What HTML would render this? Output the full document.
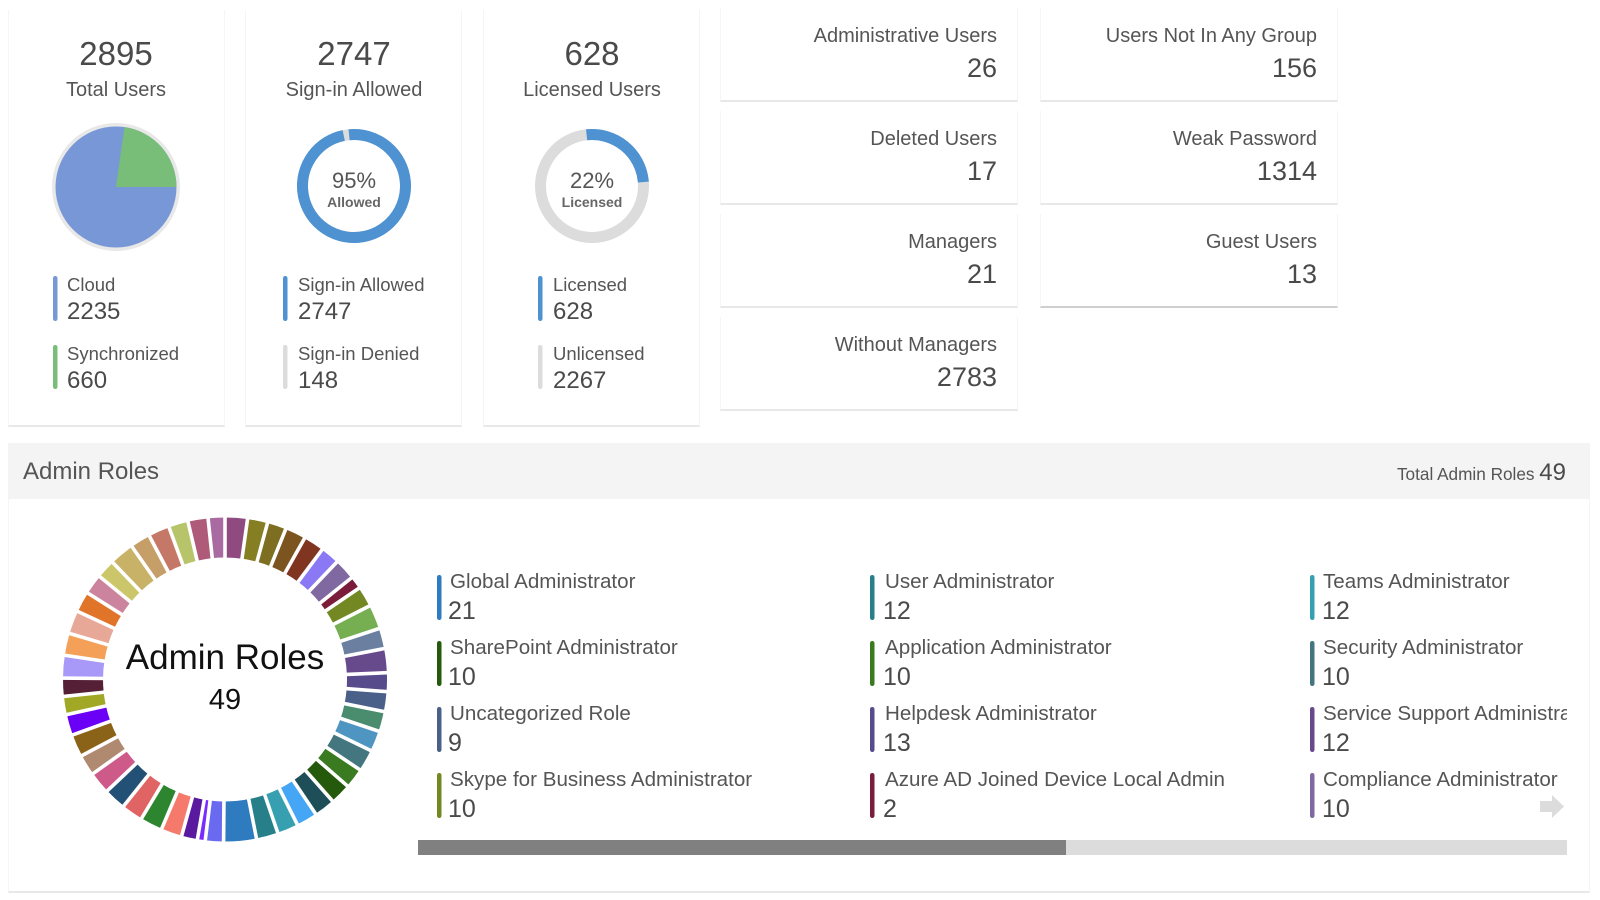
<!DOCTYPE html>
<html>
<head>
<meta charset="utf-8">
<style>
  html,body{margin:0;padding:0;}
  body{width:1600px;height:900px;background:#fff;position:relative;overflow:hidden;font-family:"Liberation Sans",sans-serif;color:#555;}
  .t{position:absolute;white-space:nowrap;line-height:1;}
  .card{position:absolute;background:#fff;border-left:1px solid #f5f5f5;border-right:1px solid #f5f5f5;border-bottom:2px solid #e8e8e8;box-sizing:border-box;}
  .c{text-align:center;}
  .big{font-size:33px;color:#4a4a4a;}
  .sub{font-size:20px;color:#555;}
  .ll{font-size:18.5px;color:#555;}
  .lv{font-size:24px;color:#4a4a4a;}
  .pct{font-size:22px;color:#555;}
  .pl{font-size:14px;font-weight:bold;color:#666;}
  .sl{font-size:20px;color:#555;text-align:right;}
  .sv{font-size:27px;color:#4a4a4a;text-align:right;}
  .rl{font-size:20.6px;color:#555;}
  .rv{font-size:25px;color:#4a4a4a;}
</style>
</head>
<body>

<!-- cards backgrounds -->
<div class="card" style="left:8px;top:10px;width:217px;height:417px;"></div>
<div class="card" style="left:245px;top:10px;width:217px;height:417px;"></div>
<div class="card" style="left:483px;top:10px;width:217px;height:417px;"></div>

<!-- right stat cards -->
<div class="card" style="left:720px;top:8px;width:298px;height:94px;"></div>
<div class="card" style="left:720px;top:111px;width:298px;height:94px;"></div>
<div class="card" style="left:720px;top:214px;width:298px;height:94px;"></div>
<div class="card" style="left:720px;top:317px;width:298px;height:94px;"></div>
<div class="card" style="left:1040px;top:8px;width:298px;height:94px;"></div>
<div class="card" style="left:1040px;top:111px;width:298px;height:94px;"></div>
<div class="card" style="left:1040px;top:214px;width:298px;height:94px;border-bottom:2px solid #cfcfcf;"></div>

<!-- admin roles section -->
<div style="position:absolute;left:8px;top:443px;width:1582px;height:450px;border-left:1px solid #f5f5f5;border-right:1px solid #f5f5f5;border-bottom:2px solid #e8e8e8;box-sizing:border-box;background:#fff;"></div>
<div style="position:absolute;left:8px;top:443px;width:1582px;height:56px;background:#f4f4f4;"></div>

<svg width="1600" height="900" style="position:absolute;left:0;top:0;" xmlns="http://www.w3.org/2000/svg">
  <!-- pie -->
  <circle cx="116" cy="187" r="64" fill="#e8e8e8"/>
  <circle cx="116" cy="187" r="60.5" fill="#7797d6"/>
  <path d="M116 187 L124.42 127.09 A60.5 60.5 0 0 1 176.5 187 Z" fill="#78bd78"/>

  <!-- donut 2 -->
  <circle cx="354" cy="186" r="51.5" fill="none" stroke="#dcdcdc" stroke-width="11"/>
  <circle cx="354" cy="186" r="51.5" fill="none" stroke="#4e92d2" stroke-width="11" stroke-dasharray="317.7 400" transform="rotate(-95.5 354 186)"/>

  <!-- donut 3 -->
  <circle cx="592" cy="186" r="51.5" fill="none" stroke="#dcdcdc" stroke-width="11"/>
  <circle cx="592" cy="186" r="51.5" fill="none" stroke="#4e92d2" stroke-width="11" stroke-dasharray="82.3 400" transform="rotate(-96 592 186)"/>

  <!-- top legend bars -->
  <rect x="53" y="276" width="4.5" height="45" rx="2.2" fill="#7797d6"/>
  <rect x="53" y="345" width="4.5" height="44" rx="2.2" fill="#78bd78"/>
  <rect x="283" y="276" width="4.5" height="45" rx="2.2" fill="#4e92d2"/>
  <rect x="283" y="345" width="4.5" height="44" rx="2.2" fill="#dcdcdc"/>
  <rect x="538" y="276" width="4.5" height="45" rx="2.2" fill="#4e92d2"/>
  <rect x="538" y="345" width="4.5" height="44" rx="2.2" fill="#dcdcdc"/>

  <!-- admin roles ring -->
  <g transform="translate(225 679.5)" fill="none" stroke-width="40">
    <circle r="142" stroke="#8f4a7f" stroke-dasharray="20.4 900" transform="rotate(-90)"/>
    <circle r="142" stroke="#857e22" stroke-dasharray="18.4 900" transform="rotate(-82)"/>
    <circle r="142" stroke="#7d6e22" stroke-dasharray="17.5 900" transform="rotate(-74.8)"/>
    <circle r="142" stroke="#7c5420" stroke-dasharray="18.9 900" transform="rotate(-68)"/>
    <circle r="142" stroke="#803520" stroke-dasharray="18.9 900" transform="rotate(-60.6)"/>
    <circle r="142" stroke="#8a78f5" stroke-dasharray="17.5 900" transform="rotate(-53.2)"/>
    <circle r="142" stroke="#8068a0" stroke-dasharray="19.4 900" transform="rotate(-46.4)"/>
    <circle r="142" stroke="#7a1c3a" stroke-dasharray="11.8 900" transform="rotate(-38.8)"/>
    <circle r="142" stroke="#738722" stroke-dasharray="18.7 900" transform="rotate(-34.3)"/>
    <circle r="142" stroke="#76ae52" stroke-dasharray="22.2 900" transform="rotate(-27)"/>
    <circle r="142" stroke="#6b7fa0" stroke-dasharray="18.7 900" transform="rotate(-18.3)"/>
    <circle r="142" stroke="#674a8c" stroke-dasharray="21.9 900" transform="rotate(-11)"/>
    <circle r="142" stroke="#574b8c" stroke-dasharray="17.2 900" transform="rotate(-2.4)"/>
    <circle r="142" stroke="#4a6088" stroke-dasharray="18.2 900" transform="rotate(4.3)"/>
    <circle r="142" stroke="#4a8c6e" stroke-dasharray="18.4 900" transform="rotate(11.4)"/>
    <circle r="142" stroke="#4f95c2" stroke-dasharray="18.9 900" transform="rotate(18.6)"/>
    <circle r="142" stroke="#447680" stroke-dasharray="19.9 900" transform="rotate(26)"/>
    <circle r="142" stroke="#3a7a20" stroke-dasharray="18.4 900" transform="rotate(33.8)"/>
    <circle r="142" stroke="#255a0d" stroke-dasharray="19.2 900" transform="rotate(41)"/>
    <circle r="142" stroke="#1e4e58" stroke-dasharray="19.2 900" transform="rotate(48.5)"/>
    <circle r="142" stroke="#45a6f5" stroke-dasharray="19.2 900" transform="rotate(56)"/>
    <circle r="142" stroke="#36a0b0" stroke-dasharray="19.2 900" transform="rotate(63.5)"/>
    <circle r="142" stroke="#277f8a" stroke-dasharray="19.9 900" transform="rotate(71)"/>
    <circle r="142" stroke="#2e7bbf" stroke-dasharray="29.6 900" transform="rotate(78.8)"/>
    <circle r="142" stroke="#6a6af0" stroke-dasharray="16.7 900" transform="rotate(90.5)"/>
    <circle r="142" stroke="#7a2cff" stroke-dasharray="7.5 900" transform="rotate(97)"/>
    <circle r="142" stroke="#5a1aa0" stroke-dasharray="14.7 900" transform="rotate(99.8)"/>
    <circle r="142" stroke="#f57a6c" stroke-dasharray="19.2 900" transform="rotate(105.5)"/>
    <circle r="142" stroke="#2e8530" stroke-dasharray="20.4 900" transform="rotate(113)"/>
    <circle r="142" stroke="#e06464" stroke-dasharray="19.7 900" transform="rotate(121)"/>
    <circle r="142" stroke="#235075" stroke-dasharray="20.2 900" transform="rotate(128.7)"/>
    <circle r="142" stroke="#cd5a88" stroke-dasharray="20.2 900" transform="rotate(136.6)"/>
    <circle r="142" stroke="#af8a70" stroke-dasharray="19.2 900" transform="rotate(144.5)"/>
    <circle r="142" stroke="#8a6218" stroke-dasharray="20.4 900" transform="rotate(152)"/>
    <circle r="142" stroke="#6a00f5" stroke-dasharray="19.2 900" transform="rotate(160)"/>
    <circle r="142" stroke="#a0a826" stroke-dasharray="16.7 900" transform="rotate(167.5)"/>
    <circle r="142" stroke="#552035" stroke-dasharray="16.7 900" transform="rotate(174)"/>
    <circle r="142" stroke="#a898f8" stroke-dasharray="20.7 900" transform="rotate(180.5)"/>
    <circle r="142" stroke="#f5a058" stroke-dasharray="20.2 900" transform="rotate(188.6)"/>
    <circle r="142" stroke="#e8a898" stroke-dasharray="21.2 900" transform="rotate(196.5)"/>
    <circle r="142" stroke="#e07428" stroke-dasharray="18.9 900" transform="rotate(204.8)"/>
    <circle r="142" stroke="#cc839e" stroke-dasharray="18.4 900" transform="rotate(212.2)"/>
    <circle r="142" stroke="#ccc66a" stroke-dasharray="17.5 900" transform="rotate(219.4)"/>
    <circle r="142" stroke="#c8b268" stroke-dasharray="22.4 900" transform="rotate(226.2)"/>
    <circle r="142" stroke="#c69e68" stroke-dasharray="18.4 900" transform="rotate(235)"/>
    <circle r="142" stroke="#c67868" stroke-dasharray="19.4 900" transform="rotate(242.2)"/>
    <circle r="142" stroke="#b8c46a" stroke-dasharray="18 900" transform="rotate(249.8)"/>
    <circle r="142" stroke="#ae5a78" stroke-dasharray="18.4 900" transform="rotate(256.8)"/>
    <circle r="142" stroke="#a86aa0" stroke-dasharray="15.5 900" transform="rotate(264)"/>
  </g>
  <g transform="translate(225 679.5)" stroke="#fff" stroke-width="3.6">
    <line y1="-116" y2="-168" transform="rotate(0)"/>
    <line y1="-116" y2="-168" transform="rotate(8)"/>
    <line y1="-116" y2="-168" transform="rotate(15.2)"/>
    <line y1="-116" y2="-168" transform="rotate(22)"/>
    <line y1="-116" y2="-168" transform="rotate(29.4)"/>
    <line y1="-116" y2="-168" transform="rotate(36.8)"/>
    <line y1="-116" y2="-168" transform="rotate(43.6)"/>
    <line y1="-116" y2="-168" transform="rotate(51.2)"/>
    <line y1="-116" y2="-168" transform="rotate(55.7)"/>
    <line y1="-116" y2="-168" transform="rotate(63)"/>
    <line y1="-116" y2="-168" transform="rotate(71.7)"/>
    <line y1="-116" y2="-168" transform="rotate(79)"/>
    <line y1="-116" y2="-168" transform="rotate(87.6)"/>
    <line y1="-116" y2="-168" transform="rotate(94.3)"/>
    <line y1="-116" y2="-168" transform="rotate(101.4)"/>
    <line y1="-116" y2="-168" transform="rotate(108.6)"/>
    <line y1="-116" y2="-168" transform="rotate(116)"/>
    <line y1="-116" y2="-168" transform="rotate(123.8)"/>
    <line y1="-116" y2="-168" transform="rotate(131)"/>
    <line y1="-116" y2="-168" transform="rotate(138.5)"/>
    <line y1="-116" y2="-168" transform="rotate(146)"/>
    <line y1="-116" y2="-168" transform="rotate(153.5)"/>
    <line y1="-116" y2="-168" transform="rotate(161)"/>
    <line y1="-116" y2="-168" transform="rotate(168.8)"/>
    <line y1="-116" y2="-168" transform="rotate(180.5)"/>
    <line y1="-116" y2="-168" transform="rotate(187)"/>
    <line y1="-116" y2="-168" transform="rotate(189.8)"/>
    <line y1="-116" y2="-168" transform="rotate(195.5)"/>
    <line y1="-116" y2="-168" transform="rotate(203)"/>
    <line y1="-116" y2="-168" transform="rotate(211)"/>
    <line y1="-116" y2="-168" transform="rotate(218.7)"/>
    <line y1="-116" y2="-168" transform="rotate(226.6)"/>
    <line y1="-116" y2="-168" transform="rotate(234.5)"/>
    <line y1="-116" y2="-168" transform="rotate(242)"/>
    <line y1="-116" y2="-168" transform="rotate(250)"/>
    <line y1="-116" y2="-168" transform="rotate(257.5)"/>
    <line y1="-116" y2="-168" transform="rotate(264)"/>
    <line y1="-116" y2="-168" transform="rotate(270.5)"/>
    <line y1="-116" y2="-168" transform="rotate(278.6)"/>
    <line y1="-116" y2="-168" transform="rotate(286.5)"/>
    <line y1="-116" y2="-168" transform="rotate(294.8)"/>
    <line y1="-116" y2="-168" transform="rotate(302.2)"/>
    <line y1="-116" y2="-168" transform="rotate(309.4)"/>
    <line y1="-116" y2="-168" transform="rotate(316.2)"/>
    <line y1="-116" y2="-168" transform="rotate(325)"/>
    <line y1="-116" y2="-168" transform="rotate(332.2)"/>
    <line y1="-116" y2="-168" transform="rotate(339.8)"/>
    <line y1="-116" y2="-168" transform="rotate(346.8)"/>
    <line y1="-116" y2="-168" transform="rotate(354)"/>
  </g>

  <!-- scrollbar -->
  <rect x="418" y="840" width="1149" height="15" fill="#dcdcdc"/>
  <rect x="418" y="840" width="648" height="15" fill="#808080"/>
</svg>

<!-- top card texts -->
<div class="t c big" style="left:8px;width:216px;top:37px;">2895</div>
<div class="t c sub" style="left:8px;width:216px;top:80px;">Total Users</div>
<div class="t c big" style="left:246px;width:216px;top:37px;">2747</div>
<div class="t c sub" style="left:246px;width:216px;top:80px;">Sign-in Allowed</div>
<div class="t c big" style="left:484px;width:216px;top:37px;">628</div>
<div class="t c sub" style="left:484px;width:216px;top:80px;">Licensed Users</div>

<div class="t c pct" style="left:304px;width:100px;top:169.7px;">95%</div>
<div class="t c pl" style="left:304px;width:100px;top:194.8px;">Allowed</div>
<div class="t c pct" style="left:542px;width:100px;top:169.7px;">22%</div>
<div class="t c pl" style="left:542px;width:100px;top:194.8px;">Licensed</div>

<div class="t ll" style="left:67px;top:276.4px;">Cloud</div>
<div class="t lv" style="left:67px;top:300px;">2235</div>
<div class="t ll" style="left:67px;top:345px;">Synchronized</div>
<div class="t lv" style="left:67px;top:369px;">660</div>

<div class="t ll" style="left:298px;top:276.4px;">Sign-in Allowed</div>
<div class="t lv" style="left:298px;top:300px;">2747</div>
<div class="t ll" style="left:298px;top:345px;">Sign-in Denied</div>
<div class="t lv" style="left:298px;top:369px;">148</div>

<div class="t ll" style="left:553px;top:276.4px;">Licensed</div>
<div class="t lv" style="left:553px;top:300px;">628</div>
<div class="t ll" style="left:553px;top:345px;">Unlicensed</div>
<div class="t lv" style="left:553px;top:369px;">2267</div>

<!-- right stats -->
<div class="t sl" style="right:603px;top:26.2px;">Administrative Users</div>
<div class="t sv" style="right:603px;top:54.8px;">26</div>
<div class="t sl" style="right:603px;top:129.2px;">Deleted Users</div>
<div class="t sv" style="right:603px;top:157.8px;">17</div>
<div class="t sl" style="right:603px;top:232.2px;">Managers</div>
<div class="t sv" style="right:603px;top:260.8px;">21</div>
<div class="t sl" style="right:603px;top:335.2px;">Without Managers</div>
<div class="t sv" style="right:603px;top:363.8px;">2783</div>

<div class="t sl" style="right:283px;top:26.2px;">Users Not In Any Group</div>
<div class="t sv" style="right:283px;top:54.8px;">156</div>
<div class="t sl" style="right:283px;top:129.2px;">Weak Password</div>
<div class="t sv" style="right:283px;top:157.8px;">1314</div>
<div class="t sl" style="right:283px;top:232.2px;">Guest Users</div>
<div class="t sv" style="right:283px;top:260.8px;">13</div>

<!-- admin header -->
<div class="t" style="left:23px;top:459.7px;font-size:24px;color:#555;">Admin Roles</div>
<div class="t" style="right:34px;top:460.7px;font-size:24px;line-height:24px;color:#4a4a4a;"><span style="font-size:17.2px;color:#555;">Total Admin Roles </span>49</div>

<!-- ring center text -->
<div class="t c" style="left:75px;width:300px;top:640.4px;font-size:35px;color:#111;">Admin Roles</div>
<div class="t c" style="left:125px;width:200px;top:686.3px;font-size:29px;color:#111;">49</div>

<!-- legend -->
<div style="position:absolute;left:418px;top:560px;width:1149px;height:272px;overflow:hidden;">
  <svg width="1149" height="272" style="position:absolute;left:0;top:0;">
    <rect x="19" y="15" width="4.5" height="45" rx="2.2" fill="#2e7bbf"/>
    <rect x="19" y="81" width="4.5" height="45" rx="2.2" fill="#255a0d"/>
    <rect x="19" y="147" width="4.5" height="45" rx="2.2" fill="#4a6088"/>
    <rect x="19" y="213" width="4.5" height="45" rx="2.2" fill="#738722"/>
    <rect x="452" y="15" width="4.5" height="45" rx="2.2" fill="#277f8a"/>
    <rect x="452" y="81" width="4.5" height="45" rx="2.2" fill="#3a7a20"/>
    <rect x="452" y="147" width="4.5" height="45" rx="2.2" fill="#574b8c"/>
    <rect x="452" y="213" width="4.5" height="45" rx="2.2" fill="#7a1c3a"/>
    <rect x="892" y="15" width="4.5" height="45" rx="2.2" fill="#36a0b0"/>
    <rect x="892" y="81" width="4.5" height="45" rx="2.2" fill="#447680"/>
    <rect x="892" y="147" width="4.5" height="45" rx="2.2" fill="#674a8c"/>
    <rect x="892" y="213" width="4.5" height="45" rx="2.2" fill="#8068a0"/>
  </svg>
  <div class="t rl" style="left:32px;top:11.9px;">Global Administrator</div>
  <div class="t rv" style="left:30px;top:38.7px;">21</div>
  <div class="t rl" style="left:32px;top:77.9px;">SharePoint Administrator</div>
  <div class="t rv" style="left:30px;top:104.7px;">10</div>
  <div class="t rl" style="left:32px;top:143.9px;">Uncategorized Role</div>
  <div class="t rv" style="left:30px;top:170.7px;">9</div>
  <div class="t rl" style="left:32px;top:209.9px;">Skype for Business Administrator</div>
  <div class="t rv" style="left:30px;top:236.7px;">10</div>

  <div class="t rl" style="left:467px;top:11.9px;">User Administrator</div>
  <div class="t rv" style="left:465px;top:38.7px;">12</div>
  <div class="t rl" style="left:467px;top:77.9px;">Application Administrator</div>
  <div class="t rv" style="left:465px;top:104.7px;">10</div>
  <div class="t rl" style="left:467px;top:143.9px;">Helpdesk Administrator</div>
  <div class="t rv" style="left:465px;top:170.7px;">13</div>
  <div class="t rl" style="left:467px;top:209.9px;">Azure AD Joined Device Local Admin</div>
  <div class="t rv" style="left:465px;top:236.7px;">2</div>

  <div class="t rl" style="left:905px;top:11.9px;">Teams Administrator</div>
  <div class="t rv" style="left:904px;top:38.7px;">12</div>
  <div class="t rl" style="left:905px;top:77.9px;">Security Administrator</div>
  <div class="t rv" style="left:904px;top:104.7px;">10</div>
  <div class="t rl" style="left:905px;top:143.9px;">Service Support Administrator</div>
  <div class="t rv" style="left:904px;top:170.7px;">12</div>
  <div class="t rl" style="left:905px;top:209.9px;">Compliance Administrator</div>
  <div class="t rv" style="left:904px;top:236.7px;">10</div>
</div>

<!-- arrow on top of legend -->
<svg width="30" height="30" style="position:absolute;left:1538px;top:793px;">
  <rect x="2" y="8" width="13" height="11" fill="#dcdcdc"/>
  <polygon points="14,2 26,13.5 14,25" fill="#dcdcdc"/>
</svg>

</body>
</html>
